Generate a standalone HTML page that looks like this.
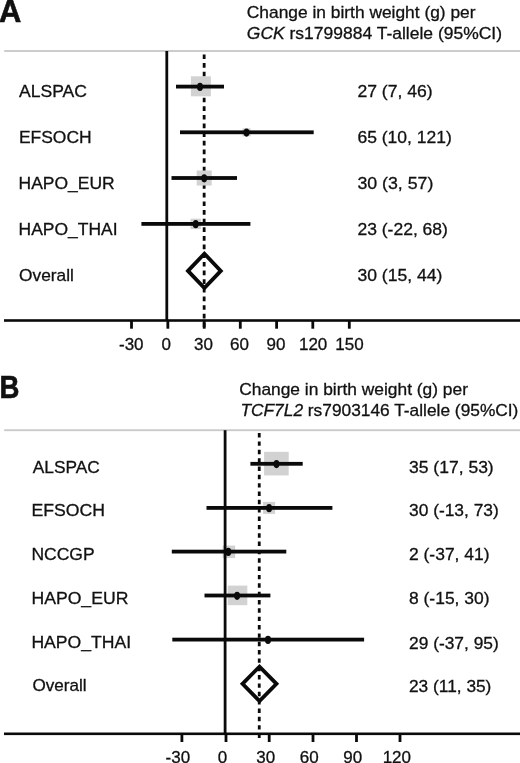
<!DOCTYPE html><html><head><meta charset="utf-8"><title>Forest plot</title>
<style>html,body{margin:0;padding:0;background:#fff;}body{width:520px;height:763px;overflow:hidden;}svg{display:block;will-change:transform;}text{font-family:"Liberation Sans",sans-serif;fill:#111;stroke:#111;stroke-width:0.3px;}</style></head><body>
<svg width="520" height="763" viewBox="0 0 520 763">
<rect width="520" height="763" fill="#fff"/>
<rect x="4.2" y="50.05" width="516" height="1.9" fill="#cacaca"/>
<line x1="204.15" y1="54.40" x2="204.15" y2="328.00" stroke="#0a0a0a" stroke-width="2.8" stroke-dasharray="4.7 3.946"/>
<rect x="190.90" y="76.30" width="20" height="20" fill="#d2d2d2"/>
<rect x="242.50" y="128.30" width="8" height="8" fill="#d2d2d2"/>
<rect x="196.70" y="170.50" width="15" height="15" fill="#d2d2d2"/>
<rect x="190.50" y="218.70" width="10.4" height="10.4" fill="#d2d2d2"/>
<rect x="165.40" y="51.00" width="2.8" height="269.50" fill="#0a0a0a"/>
<rect x="4.0" y="319.20" width="516.0" height="2.6" fill="#0a0a0a"/>
<rect x="130.10" y="320.50" width="2.8" height="8.2" fill="#0a0a0a"/>
<rect x="166.45" y="320.50" width="2.8" height="8.2" fill="#0a0a0a"/>
<rect x="202.80" y="320.50" width="2.8" height="8.2" fill="#0a0a0a"/>
<rect x="238.90" y="320.50" width="2.8" height="8.2" fill="#0a0a0a"/>
<rect x="275.20" y="320.50" width="2.8" height="8.2" fill="#0a0a0a"/>
<rect x="311.40" y="320.50" width="2.8" height="8.2" fill="#0a0a0a"/>
<rect x="347.90" y="320.50" width="2.8" height="8.2" fill="#0a0a0a"/>
<rect x="176.00" y="84.70" width="48.00" height="3.8" fill="#0a0a0a"/>
<ellipse cx="200.00" cy="86.90" rx="2.95" ry="4.1" fill="#0a0a0a"/>
<rect x="180.00" y="130.40" width="133.70" height="3.8" fill="#0a0a0a"/>
<ellipse cx="246.50" cy="132.60" rx="2.95" ry="4.1" fill="#0a0a0a"/>
<rect x="171.50" y="176.10" width="65.50" height="3.8" fill="#0a0a0a"/>
<ellipse cx="204.20" cy="178.30" rx="2.95" ry="4.1" fill="#0a0a0a"/>
<rect x="141.40" y="222.00" width="109.00" height="3.8" fill="#0a0a0a"/>
<ellipse cx="195.70" cy="224.20" rx="2.95" ry="4.1" fill="#0a0a0a"/>
<polygon points="188.00,270.90 204.40,253.70 220.80,270.90 204.40,288.10" fill="none" stroke="#0a0a0a" stroke-width="3.8" stroke-linejoin="miter"/>
<rect x="4.2" y="429.25" width="516" height="1.9" fill="#cacaca"/>
<line x1="259.25" y1="433.10" x2="259.25" y2="737.90" stroke="#0a0a0a" stroke-width="2.8" stroke-dasharray="4.4 3.945"/>
<rect x="264.10" y="451.85" width="24.6" height="23.6" fill="#d2d2d2"/>
<rect x="263.10" y="501.90" width="12" height="12" fill="#d2d2d2"/>
<rect x="222.65" y="545.55" width="12.5" height="12.5" fill="#d2d2d2"/>
<rect x="227.70" y="585.60" width="19.6" height="19.6" fill="#d2d2d2"/>
<rect x="265.00" y="636.60" width="6" height="6" fill="#d2d2d2"/>
<rect x="223.70" y="430.20" width="2.8" height="303.60" fill="#0a0a0a"/>
<rect x="4.0" y="732.50" width="516.0" height="2.6" fill="#0a0a0a"/>
<rect x="180.50" y="733.80" width="2.8" height="8.2" fill="#0a0a0a"/>
<rect x="224.60" y="733.80" width="2.8" height="8.2" fill="#0a0a0a"/>
<rect x="267.80" y="733.80" width="2.8" height="8.2" fill="#0a0a0a"/>
<rect x="311.60" y="733.80" width="2.8" height="8.2" fill="#0a0a0a"/>
<rect x="355.10" y="733.80" width="2.8" height="8.2" fill="#0a0a0a"/>
<rect x="398.60" y="733.80" width="2.8" height="8.2" fill="#0a0a0a"/>
<rect x="250.40" y="461.90" width="52.30" height="3.8" fill="#0a0a0a"/>
<ellipse cx="276.50" cy="464.10" rx="2.95" ry="4.1" fill="#0a0a0a"/>
<rect x="206.50" y="506.00" width="125.90" height="3.8" fill="#0a0a0a"/>
<ellipse cx="269.10" cy="508.20" rx="2.95" ry="4.1" fill="#0a0a0a"/>
<rect x="171.80" y="549.70" width="114.50" height="3.8" fill="#0a0a0a"/>
<ellipse cx="228.30" cy="551.90" rx="2.95" ry="4.1" fill="#0a0a0a"/>
<rect x="204.50" y="593.60" width="65.90" height="3.8" fill="#0a0a0a"/>
<ellipse cx="237.10" cy="595.80" rx="2.95" ry="4.1" fill="#0a0a0a"/>
<rect x="172.30" y="637.70" width="191.80" height="3.8" fill="#0a0a0a"/>
<ellipse cx="268.00" cy="639.90" rx="2.95" ry="4.1" fill="#0a0a0a"/>
<polygon points="242.50,683.80 259.50,666.60 276.50,683.80 259.50,701.00" fill="none" stroke="#0a0a0a" stroke-width="3.8" stroke-linejoin="miter"/>
<text id="pa" transform="translate(-0.90,21.75) scale(1.0120,1.03)" font-size="30.5" font-weight="bold" style="stroke-width:0.6px">A</text>
<text id="pb" transform="translate(-0.55,398.45) scale(0.9050,1.03)" font-size="30.5" font-weight="bold" style="stroke-width:0.6px">B</text>
<text id="ha1" transform="translate(246.80,17.95) scale(1.0228,0.985)" font-size="17.0" font-weight="normal">Change in birth weight (g) per</text>
<text id="ha2" transform="translate(246.80,38.60) scale(1.0292,0.985)" font-size="17.0" font-weight="normal"><tspan font-style="italic">GCK</tspan> rs1799884 T-allele (95%CI)</text>
<text id="hb1" transform="translate(239.20,395.30) scale(1.0228,0.985)" font-size="17.0" font-weight="normal">Change in birth weight (g) per</text>
<text id="hb2" transform="translate(240.45,416.30) scale(1.0195,0.985)" font-size="17.0" font-weight="normal"><tspan font-style="italic">TCF7L2</tspan> rs7903146 T-allele (95%CI)</text>
<text id="la0" transform="translate(19.00,97.10) scale(1.0331,0.985)" font-size="17.0" font-weight="normal">ALSPAC</text>
<text id="la1" transform="translate(18.95,142.70) scale(1.0264,0.985)" font-size="17.0" font-weight="normal">EFSOCH</text>
<text id="la2" transform="translate(18.55,188.90) scale(1.0289,0.985)" font-size="17.0" font-weight="normal">HAPO_EUR</text>
<text id="la3" transform="translate(18.55,234.70) scale(1.0279,0.985)" font-size="17.0" font-weight="normal">HAPO_THAI</text>
<text id="la4" transform="translate(19.10,280.60) scale(1.0176,0.985)" font-size="17.0" font-weight="normal">Overall</text>
<text id="va0" transform="translate(357.40,97.10) scale(1.0342,0.985)" font-size="17.0" font-weight="normal">27 (7, 46)</text>
<text id="va1" transform="translate(357.40,142.70) scale(1.0306,0.985)" font-size="17.0" font-weight="normal">65 (10, 121)</text>
<text id="va2" transform="translate(357.40,188.90) scale(1.0455,0.985)" font-size="17.0" font-weight="normal">30 (3, 57)</text>
<text id="va3" transform="translate(357.40,234.70) scale(1.0312,0.985)" font-size="17.0" font-weight="normal">23 (-22, 68)</text>
<text id="va4" transform="translate(357.40,280.60) scale(1.0337,0.985)" font-size="17.0" font-weight="normal">30 (15, 44)</text>
<text id="ta0" transform="translate(131.30,350.30) scale(1.0000,0.985)" text-anchor="middle" font-size="17.0" font-weight="normal">-30</text>
<text id="ta1" transform="translate(166.30,350.30) scale(1.0000,0.985)" text-anchor="middle" font-size="17.0" font-weight="normal">0</text>
<text id="ta2" transform="translate(203.50,350.30) scale(1.0000,0.985)" text-anchor="middle" font-size="17.0" font-weight="normal">30</text>
<text id="ta3" transform="translate(239.50,350.30) scale(1.0000,0.985)" text-anchor="middle" font-size="17.0" font-weight="normal">60</text>
<text id="ta4" transform="translate(275.90,350.30) scale(1.0000,0.985)" text-anchor="middle" font-size="17.0" font-weight="normal">90</text>
<text id="ta5" transform="translate(313.10,350.30) scale(1.0000,0.985)" text-anchor="middle" font-size="17.0" font-weight="normal">120</text>
<text id="ta6" transform="translate(349.40,350.30) scale(1.0000,0.985)" text-anchor="middle" font-size="17.0" font-weight="normal">150</text>
<text id="lb0" transform="translate(32.80,472.70) scale(1.0192,0.985)" font-size="17.0" font-weight="normal">ALSPAC</text>
<text id="lb1" transform="translate(31.40,516.30) scale(1.0388,0.985)" font-size="17.0" font-weight="normal">EFSOCH</text>
<text id="lb2" transform="translate(31.40,560.00) scale(1.0317,0.985)" font-size="17.0" font-weight="normal">NCCGP</text>
<text id="lb3" transform="translate(31.40,604.00) scale(1.0378,0.985)" font-size="17.0" font-weight="normal">HAPO_EUR</text>
<text id="lb4" transform="translate(31.40,648.20) scale(1.0364,0.985)" font-size="17.0" font-weight="normal">HAPO_THAI</text>
<text id="lb5" transform="translate(32.40,691.20) scale(1.0071,0.985)" font-size="17.0" font-weight="normal">Overall</text>
<text id="vb0" transform="translate(409.00,472.70) scale(1.0312,0.985)" font-size="17.0" font-weight="normal">35 (17, 53)</text>
<text id="vb1" transform="translate(409.00,516.30) scale(1.0219,0.985)" font-size="17.0" font-weight="normal">30 (-13, 73)</text>
<text id="vb2" transform="translate(409.00,560.00) scale(1.0274,0.985)" font-size="17.0" font-weight="normal">2 (-37, 41)</text>
<text id="vb3" transform="translate(409.00,604.00) scale(1.0274,0.985)" font-size="17.0" font-weight="normal">8 (-15, 30)</text>
<text id="vb4" transform="translate(409.00,648.60) scale(1.0219,0.985)" font-size="17.0" font-weight="normal">29 (-37, 95)</text>
<text id="vb5" transform="translate(409.00,692.00) scale(1.0187,0.985)" font-size="17.0" font-weight="normal">23 (11, 35)</text>
<text id="tb0" transform="translate(177.85,763.00) scale(1.0000,0.985)" text-anchor="middle" font-size="17.0" font-weight="normal">-30</text>
<text id="tb1" transform="translate(222.35,763.00) scale(1.0000,0.985)" text-anchor="middle" font-size="17.0" font-weight="normal">0</text>
<text id="tb2" transform="translate(265.65,763.00) scale(1.0000,0.985)" text-anchor="middle" font-size="17.0" font-weight="normal">30</text>
<text id="tb3" transform="translate(309.25,763.00) scale(1.0000,0.985)" text-anchor="middle" font-size="17.0" font-weight="normal">60</text>
<text id="tb4" transform="translate(352.75,763.00) scale(1.0000,0.985)" text-anchor="middle" font-size="17.0" font-weight="normal">90</text>
<text id="tb5" transform="translate(396.80,763.00) scale(1.0000,0.985)" text-anchor="middle" font-size="17.0" font-weight="normal">120</text>
</svg></body></html>
